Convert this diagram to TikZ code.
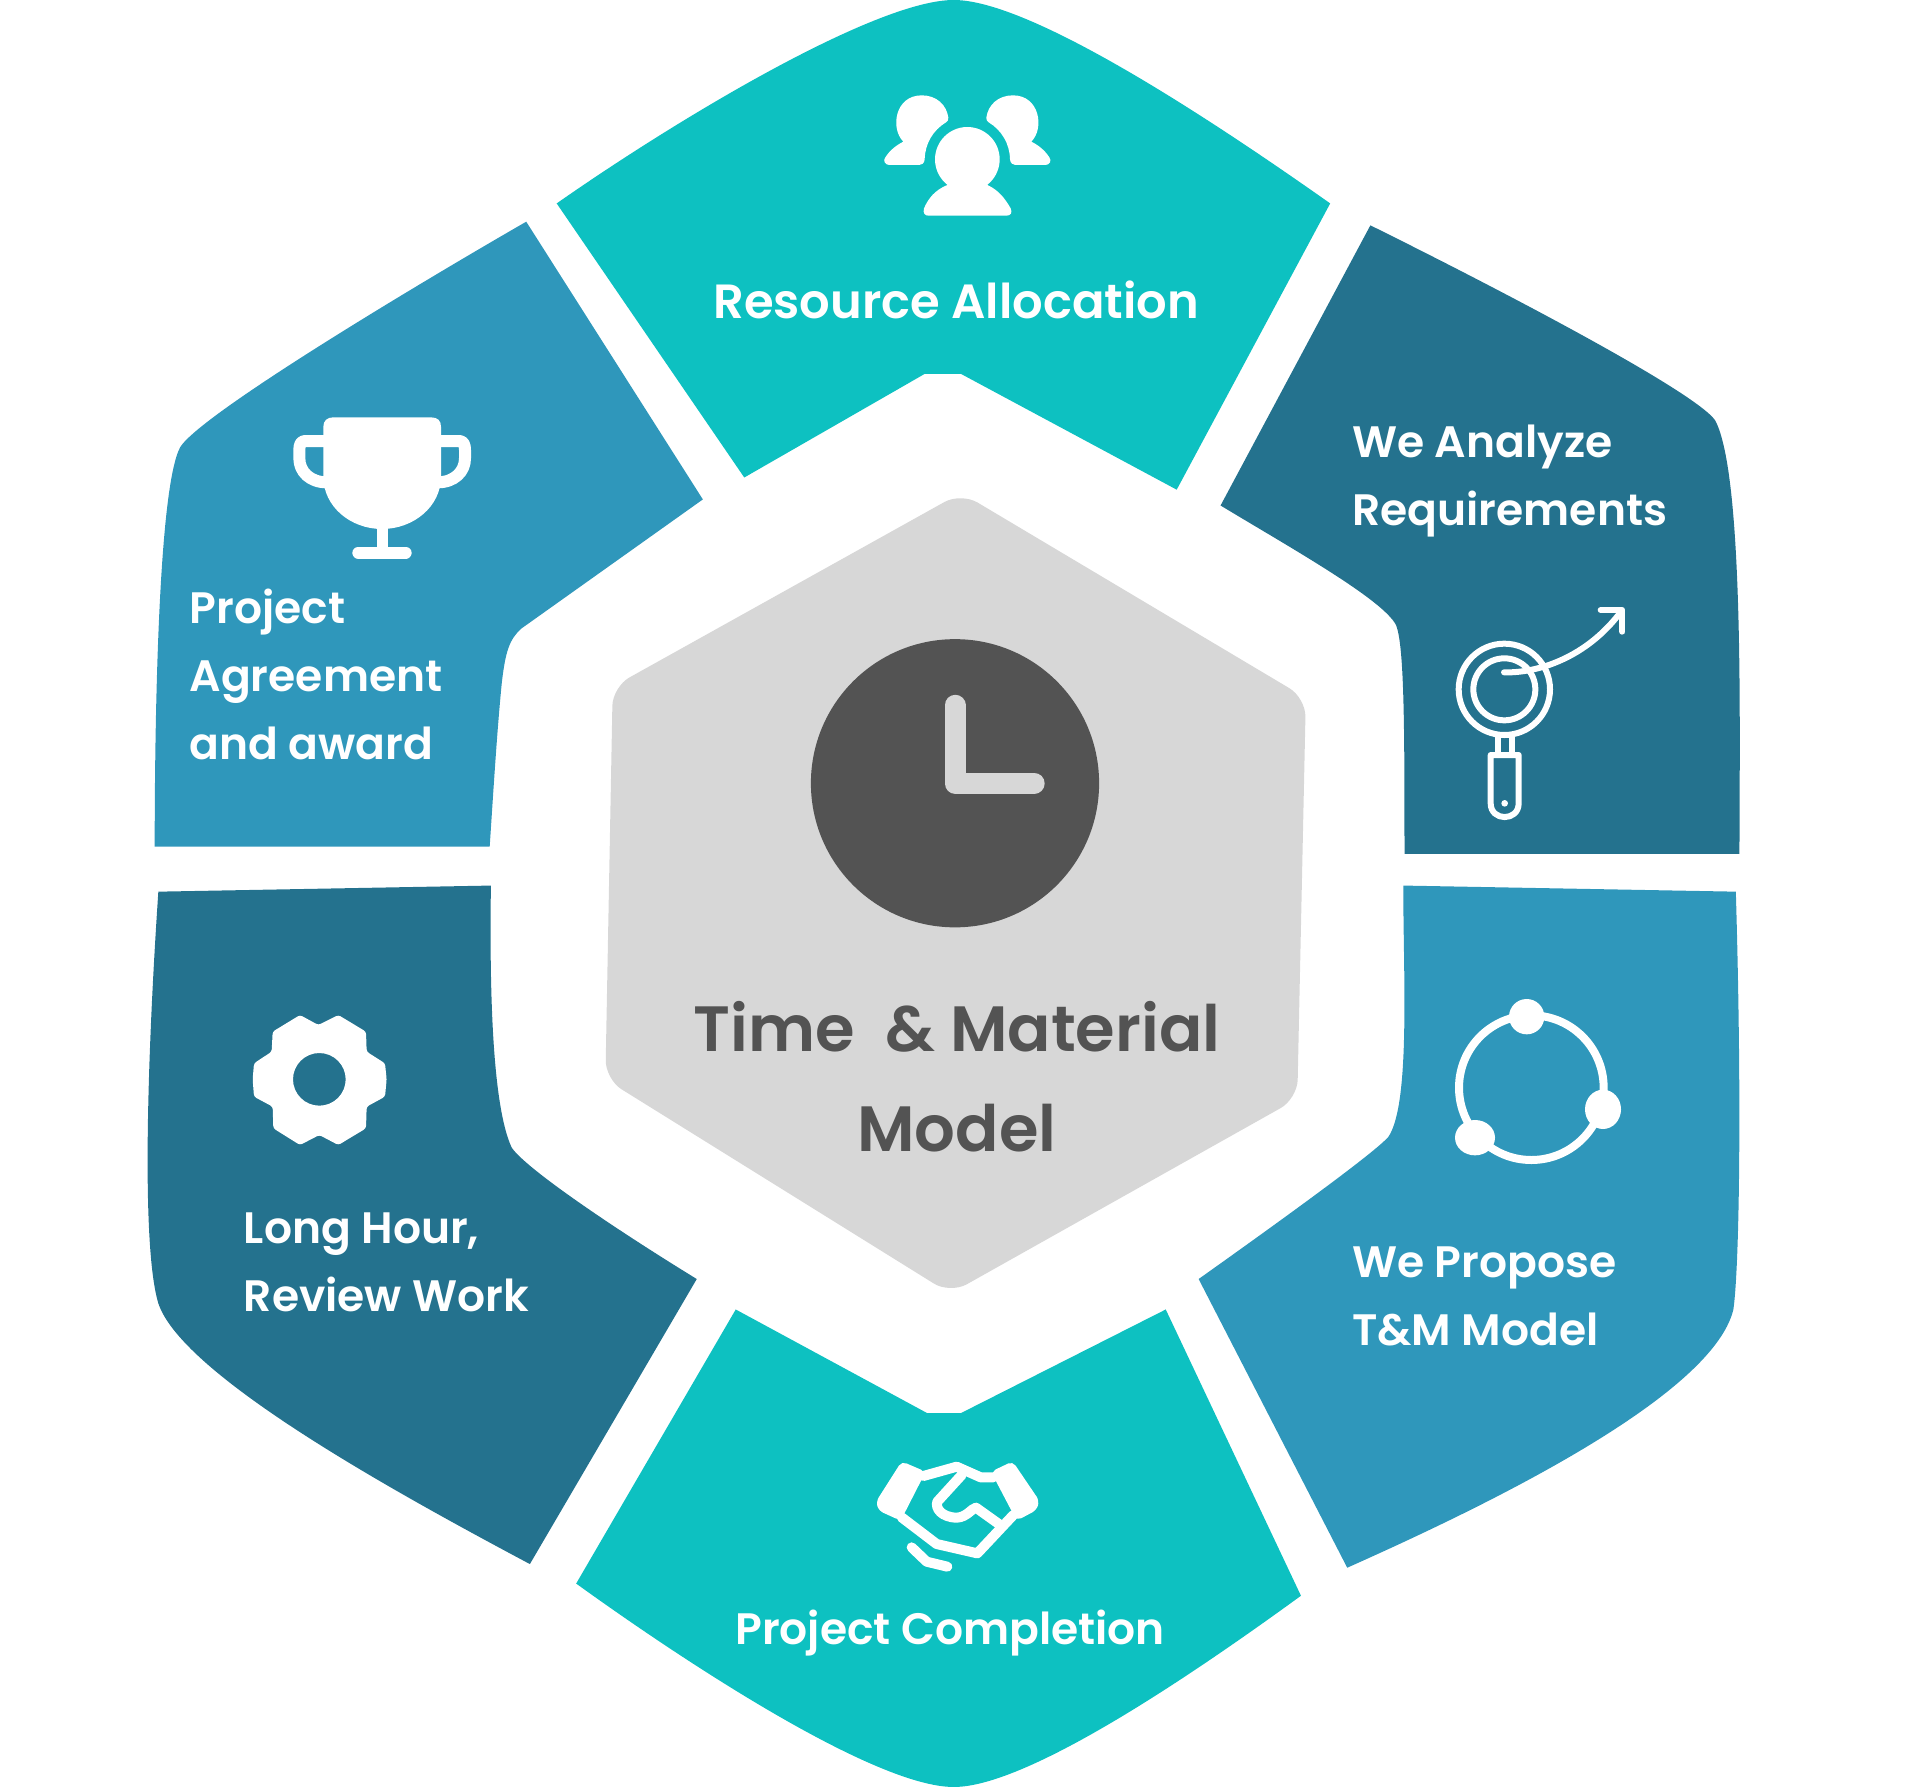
\documentclass[tikz,border=0pt]{standalone}
\usepackage{fontspec}
\setmainfont{Poppins SemiBold}
\definecolor{tealseg}{HTML}{0DC1C1}
\definecolor{darkseg}{HTML}{24728E}
\definecolor{midseg}{HTML}{2F97BB}
\definecolor{hexgray}{HTML}{D7D7D7}
\definecolor{clockgray}{HTML}{535353}
\newcommand{\sideperson}{(130,215) .. controls (90,175) and (105,76) .. (185,76) .. controls (230,76) and (260,105) .. (265,143) .. controls (266,150) and (262,155) .. (258,157) .. controls (220,180) and (195,220) .. (194,268) .. controls (193,280) and (185,285) .. (178,285) -- (88,285) .. controls (75,285) and (68,272) .. (76,262) .. controls (90,240) and (110,225) .. (130,215) -- cycle}
\tikzset{
  disp/.style={x=1.21811pt,y=-1.21811pt},
  zoomed/.style 2 args={x=.33333pt,y=-.33333pt,shift={(#1pt,-#2pt)}},
  label/.style={text=white,inner sep=0pt,font=\fontsize{44}{68}\selectfont,align=left},
  wide/.style={text=white,inner sep=0pt,font=\fontsize{48}{68}\selectfont},
  title/.style={text=clockgray,inner sep=0pt,font=\fontsize{64}{100}\selectfont,align=center},
  ico/.style={fill=white,draw=none},
  icoline/.style={draw=white,line cap=round,line join=round,fill=none},
}
\begin{document}
\begin{tikzpicture}
\useasboundingbox (0pt,0pt) rectangle (1910pt,-1787pt);
\begin{scope}[disp]
% top
\fill[tealseg] (457,167) .. controls (560,95) and (720,0) .. (783,0) .. controls (845,0) and (990,95) .. (1092,167) -- (966,402) -- (789,307) -- (759,307) -- (611,392) -- cycle;
% top right
\fill[darkseg] (1125,185) .. controls (1220,232) and (1390,320) .. (1408,345) .. controls (1432,390) and (1428,600) .. (1428,701) -- (1153,701) .. controls (1153,600) and (1153,530) .. (1146,513) .. controls (1135,492) and (1060,450) .. (1002,415) -- cycle;
% bottom right
\fill[midseg] (1152,727) -- (1425,732) .. controls (1430,900) and (1428,1040) .. (1423,1075) .. controls (1405,1150) and (1200,1245) .. (1106,1287) -- (984,1050) .. controls (1060,996) and (1130,945) .. (1140,933) .. controls (1158,905) and (1152,800) .. (1152,727) -- cycle;
% bottom
\fill[tealseg] (604,1075) -- (761,1160) -- (789,1160) -- (957,1075) -- (1068,1310) .. controls (965,1385) and (840,1467) .. (783,1467) .. controls (720,1467) and (570,1370) .. (473,1300) -- cycle;
% bottom left
\fill[darkseg] (130,732) -- (403,727) .. controls (402,800) and (403,905) .. (420,942) .. controls (432,960) and (510,1012) .. (572,1050) -- (435,1284) .. controls (330,1228) and (150,1130) .. (130,1070) .. controls (115,1020) and (122,850) .. (130,732) -- cycle;
% top left
\fill[midseg] (432,182) -- (577,410) -- (428,516) .. controls (418,525) and (415,535) .. (412,560) .. controls (408,600) and (405,650) .. (402,695) -- (127,695) .. controls (127,590) and (130,400) .. (148,367) .. controls (165,340) and (340,235) .. (432,182) -- cycle;
% centre hexagon
\fill[hexgray,rounded corners=19pt] (789,404.5) -- (1072,573) -- (1065,902) -- (780,1062) -- (497,886) -- (503,563.8) -- cycle;
% clock
\fill[clockgray] (784,643) circle (118.3);
\draw[hexgray,line width=21pt,line cap=round,line join=round] (784,579) -- (784,643) -- (849,643);
% texts
\node[wide] (resource) at (785,246.5) {Resource Allocation};
\node[label,anchor=west] (analyze) at (1110,394.5) {We Analyze\\Requirements};
\node[label,anchor=west] (propose) at (1110,1064) {We Propose\\T\&M Model};
\node[wide,font=\fontsize{44}{68}\selectfont] (completion) at (780,1340.5) {Project Completion};
\node[label,anchor=west] (review) at (200,1036) {Long Hour,\\Review Work};
\node[label,anchor=west] (agreement) at (155.5,554) {Project\\Agreement\\and award};
\node[title] (model) at (785.5,884) {Time\ \ \& Material\\Model};
\end{scope}
% people icon
\begin{scope}[zoomed={860}{70}]
\fill[ico] (322,268) circle (97);
\fill[ico] (262,340) -- (262,345) .. controls (225,360) and (205,385) .. (192,415) .. controls (188,430) and (195,437) .. (205,437) -- (440,437) .. controls (452,437) and (458,428) .. (452,415) .. controls (435,385) and (415,360) .. (382,345) -- (382,340) -- cycle;
\fill[ico] \sideperson;
\begin{scope}[shift={(644,0)},xscale=-1]
\fill[ico] \sideperson;
\end{scope}
\end{scope}
% magnifier icon
\begin{scope}[zoomed={1430}{590}]
\draw[icoline,line width=6pt] (223,298) circle (137);
\draw[icoline,line width=6pt] (223,298) circle (93);
\draw[icoline,line width=6pt] (222,247) .. controls (320,250) and (470,205) .. (575,62);
\draw[icoline,line width=6pt] (512,60) -- (577,60) -- (577,125);
\draw[icoline,line width=6pt] (203,435) -- (203,495);
\draw[icoline,line width=6pt] (245,435) -- (245,495);
\draw[icoline,line width=6pt] (182,495) -- (266,495) -- (266,640) .. controls (266,695) and (182,695) .. (182,640) -- cycle;
\fill[ico] (224,640) circle (10);
\end{scope}
% ring icon
\begin{scope}[zoomed={1430}{980}]
\draw[icoline,line width=8pt] (304,323) circle (217);
\fill[ico] (290,110) circle (53);
\fill[ico] (519,388) ellipse (54 and 59);
\fill[ico] (135,473) ellipse (60 and 53);
\end{scope}
% handshake icon
\begin{scope}[zoomed={860}{1440}]
\fill[ico,rounded corners=5pt] (125,64) -- (197,95) -- (122,242) -- (56,212) -- (48,185) -- cycle;
\fill[ico,rounded corners=5pt] (458,64) -- (393,95) -- (470,242) -- (530,210) -- (538,182) -- cycle;
\draw[icoline,line width=10pt] (190,108) -- (290,80) -- (362,112) -- (400,112);
\draw[icoline,line width=10pt] (305,105) -- (232,185) .. controls (225,205) and (245,232) .. (290,233) .. controls (320,232) and (335,205) .. (348,203) -- (425,258);
\draw[icoline,line width=10pt] (125,232) -- (230,312) -- (352,340) -- (460,225);
\draw[icoline,line width=10pt] (155,322) -- (200,365) -- (262,380);
\end{scope}
% gear icon
\begin{scope}[zoomed={230}{1000}]
\fill[ico,even odd rule,rounded corners=2.5pt] (210,45) -- (265,75) -- (325,45) -- (408,95) -- (410,155) -- (465,190) -- (470,238) -- (465,290) -- (410,320) -- (408,385) -- (325,435) -- (268,405) -- (210,435) -- (130,385) -- (128,320) -- (72,290) -- (68,238) -- (72,190) -- (125,155) -- (128,95) -- cycle [sharp corners] (268,238) circle (79);
\end{scope}
% trophy icon
\begin{scope}[zoomed={280}{400}]
\fill[ico] (130,80) .. controls (130,62) and (142,52) .. (160,52) -- (453,52) .. controls (473,52) and (483,62) .. (483,80) -- (483,230) .. controls (483,320) and (400,387) .. (306,387) .. controls (212,387) and (130,320) .. (130,230) -- cycle;
\fill[ico] (290,380) rectangle (323,450);
\draw[icoline,line width=12pt] (235,458) -- (377,458);
\draw[icoline,line width=12pt,line cap=butt] (135,123) -- (75,123) .. controls (62,123) and (58,135) .. (58,150) -- (58,175) .. controls (58,215) and (90,247) .. (140,247);
\draw[icoline,line width=12pt,line cap=butt] (478,123) -- (538,123) .. controls (551,123) and (555,135) .. (555,150) -- (555,175) .. controls (555,215) and (523,247) .. (473,247);
\end{scope}
\end{tikzpicture}
\end{document}
